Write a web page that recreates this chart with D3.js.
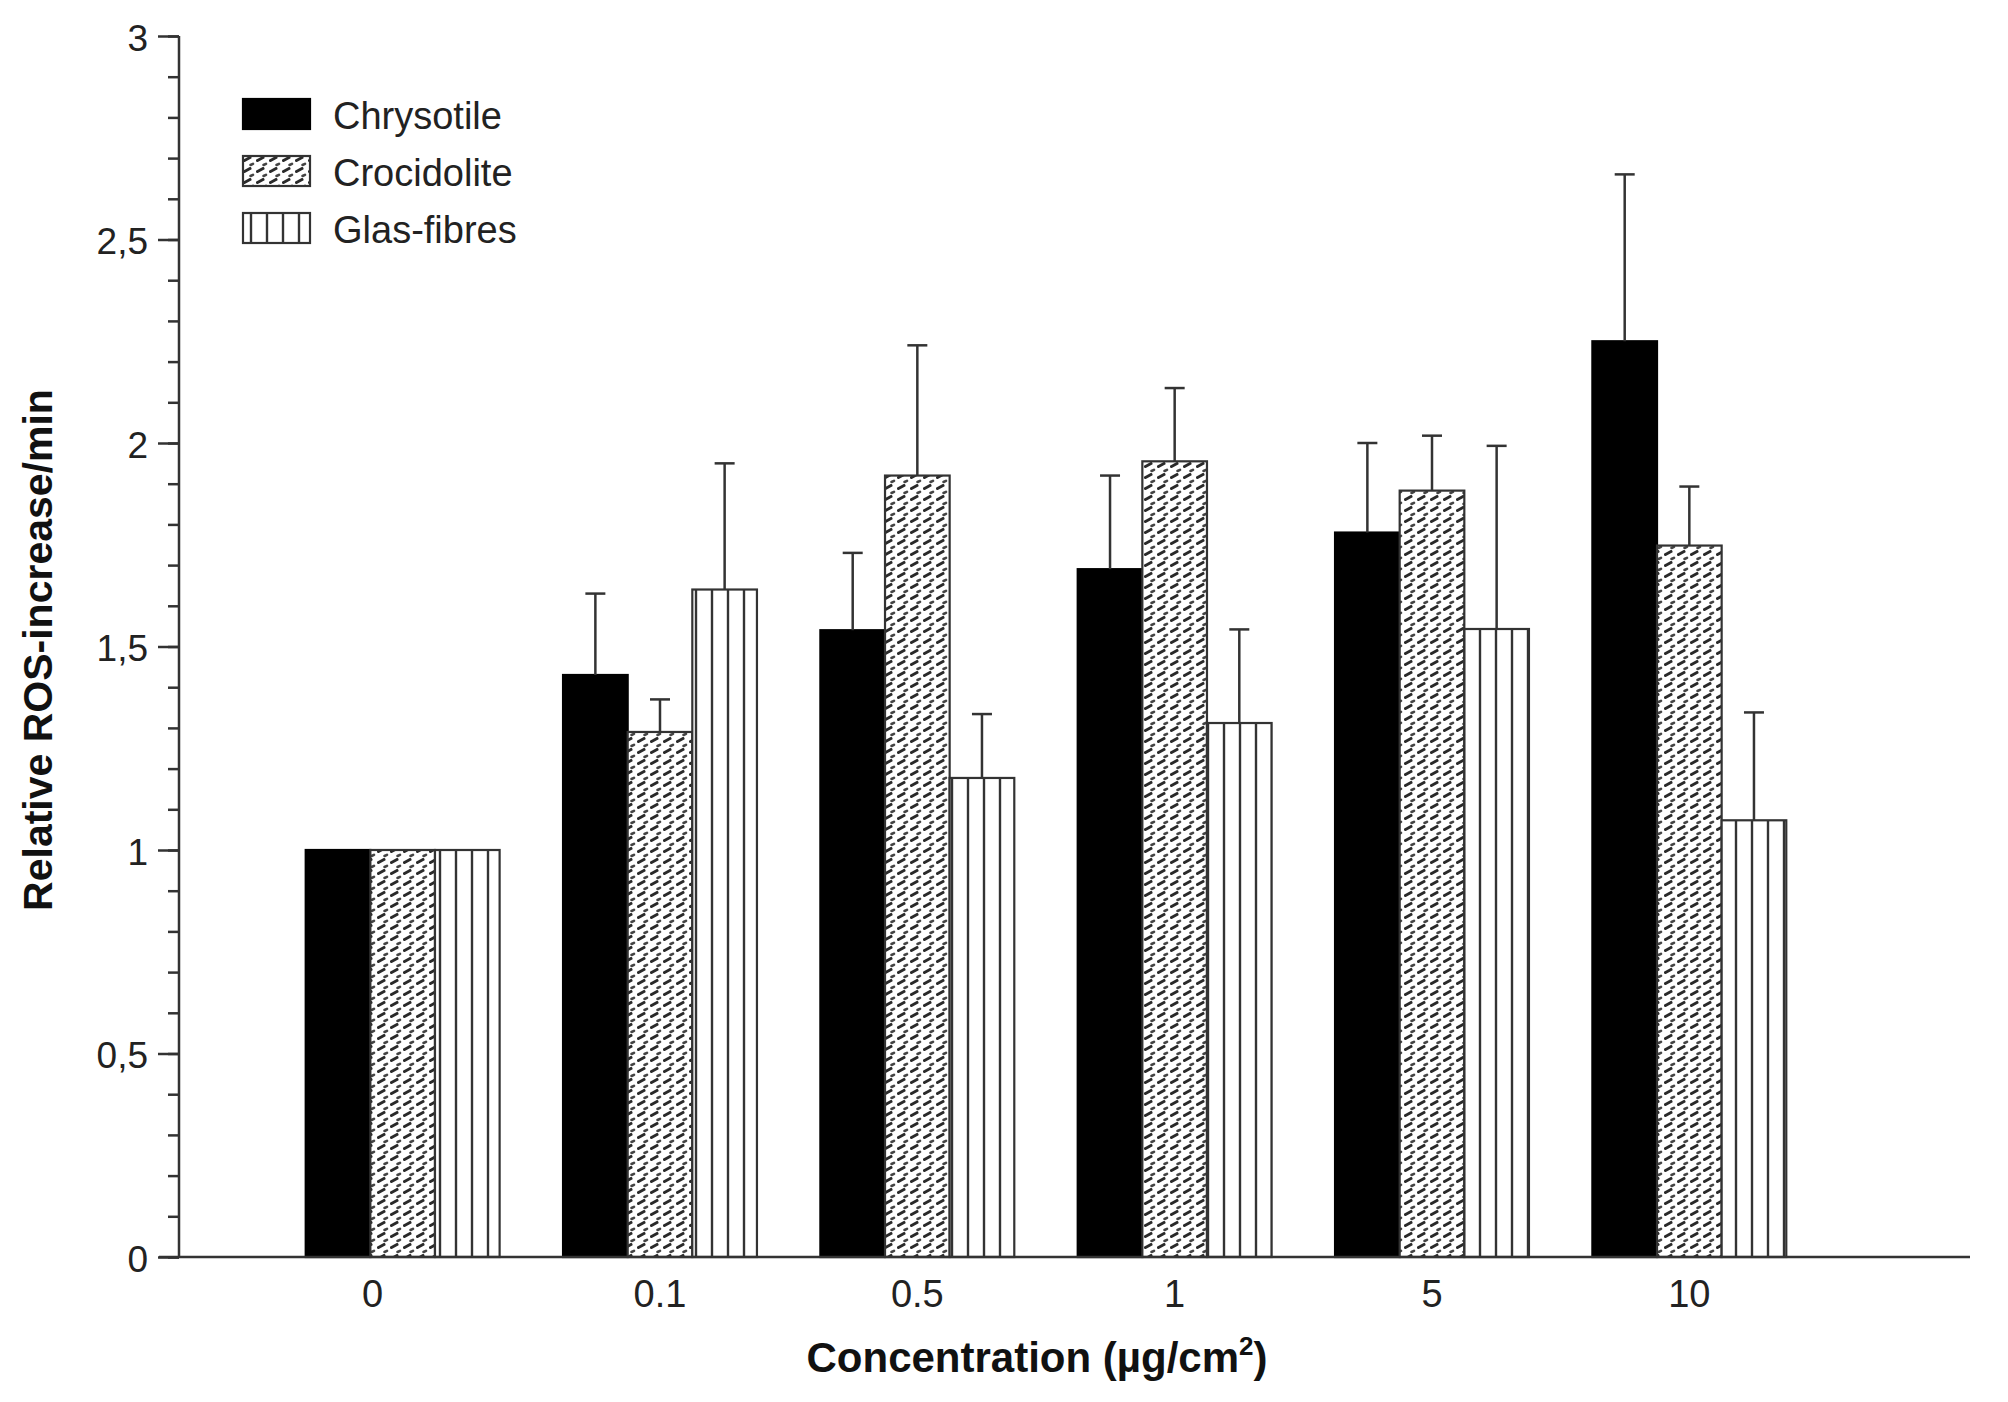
<!DOCTYPE html>
<html>
<head>
<meta charset="utf-8">
<script src="https://cdn.jsdelivr.net/npm/d3@7"></script>
<style>
  body { margin: 0; background: #fff; }
  svg { display: block; font-family: "Liberation Sans", Arial, sans-serif; }
</style>
</head>
<body>
<svg id="chart" width="2008" height="1402"></svg>
<script>
const categories = ["0", "0.1", "0.5", "1", "5", "10"];
const seriesNames = ["Chrysotile", "Crocidolite", "Glas-fibres"];
const chrysotile = [1, 1.43, 1.54, 1.69, 1.78, 2.25];
const chrysotileErr = [0, 0.2, 0.19, 0.23, 0.22, 0.41];
const crocidolite = [1, 1.29, 1.92, 1.955, 1.883, 1.748];
const crocidoliteErr = [0, 0.08, 0.32, 0.18, 0.135, 0.145];
const glas = [1, 1.64, 1.177, 1.312, 1.543, 1.073];
const glasErr = [0, 0.31, 0.157, 0.23, 0.45, 0.265];
const yMajorTicks = [0, 0.5, 1, 1.5, 2, 2.5, 3];
const yTickLabels = ["0", "0,5", "1", "1,5", "2", "2,5", "3"];

const WIDTH = 2008;
const HEIGHT = 1402;
const AXIS_X = 179;
const AXIS_END = 1970;
const Y0 = 1257;
const Y3 = 36;
const INK = "#333";

const values = [chrysotile, crocidolite, glas];
const errors = [chrysotileErr, crocidoliteErr, glasErr];
const fills = ["#000", "url(#croc)", "url(#glas)"];

const svg = d3.select("#chart");

// patterns
const defs = svg.append("defs");
const croc = defs
  .append("pattern")
  .attr("id", "croc")
  .attr("patternUnits", "userSpaceOnUse")
  .attr("width", 13)
  .attr("height", 11);
croc.append("rect").attr("width", 13).attr("height", 11).attr("fill", "#fff");
croc
  .append("line")
  .attr("x1", 1.5).attr("y1", 4.5).attr("x2", 7).attr("y2", 1.5)
  .attr("stroke", "#2a2a2a").attr("stroke-width", 3).attr("stroke-linecap", "round");
croc
  .append("line")
  .attr("x1", 7.5).attr("y1", 9).attr("x2", 10).attr("y2", 7.8)
  .attr("stroke", "#444").attr("stroke-width", 2.6).attr("stroke-linecap", "round");

const glasPat = defs
  .append("pattern")
  .attr("id", "glas")
  .attr("patternUnits", "userSpaceOnUse")
  .attr("width", 16)
  .attr("height", 16);
glasPat.append("rect").attr("width", 16).attr("height", 16).attr("fill", "#fff");
glasPat
  .append("line")
  .attr("x1", 8).attr("y1", 0).attr("x2", 8).attr("y2", 16)
  .attr("stroke", INK).attr("stroke-width", 2.4);

const xScale = d3
  .scaleBand()
  .domain(categories)
  .range([274, 1818])
  .paddingInner(0.2465)
  .paddingOuter(0.2465 / 2);

const xInner = d3
  .scaleBand()
  .domain(seriesNames)
  .range([0, xScale.bandwidth()]);

const yScale = d3.scaleLinear().domain([0, 3]).range([Y0, Y3]);

// bars
seriesNames.forEach((name, s) => {
  svg
    .append("g")
    .selectAll("rect")
    .data(categories)
    .enter()
    .append("rect")
    .attr("x", (d) => xScale(d) + xInner(name))
    .attr("y", (d, i) => yScale(values[s][i]))
    .attr("width", xInner.bandwidth())
    .attr("height", (d, i) => Y0 - yScale(values[s][i]))
    .attr("fill", fills[s])
    .attr("stroke", s === 0 ? "#000" : INK)
    .attr("stroke-width", 2.2);

  // error bars
  const eb = svg
    .append("g")
    .selectAll("g")
    .data(categories.filter((d, i) => errors[s][i] > 0))
    .enter()
    .append("g")
    .attr("stroke", INK)
    .attr("stroke-width", 2.5);
  const cx = (d) => xScale(d) + xInner(name) + xInner.bandwidth() / 2;
  const idx = (d) => categories.indexOf(d);
  eb.append("line")
    .attr("x1", cx)
    .attr("x2", cx)
    .attr("y1", (d) => yScale(values[s][idx(d)]))
    .attr("y2", (d) => yScale(values[s][idx(d)] + errors[s][idx(d)]));
  eb.append("line")
    .attr("x1", (d) => cx(d) - 10)
    .attr("x2", (d) => cx(d) + 10)
    .attr("y1", (d) => yScale(values[s][idx(d)] + errors[s][idx(d)]))
    .attr("y2", (d) => yScale(values[s][idx(d)] + errors[s][idx(d)]));
});

// y axis
const yAxis = svg
  .append("g")
  .attr("transform", `translate(${AXIS_X}, 0)`)
  .call(
    d3
      .axisLeft(yScale)
      .tickValues(d3.range(0, 31).map((d) => d / 10))
      .tickSize(11)
      .tickFormat(""),
  );
yAxis.select(".domain").remove();
yAxis.selectAll(".tick line").attr("stroke", INK).attr("stroke-width", 2.5);

const yMajor = svg
  .append("g")
  .attr("transform", `translate(${AXIS_X}, 0)`)
  .call(
    d3
      .axisLeft(yScale)
      .tickValues(yMajorTicks)
      .tickSize(21)
      .tickPadding(10)
      .tickFormat((d, i) => yTickLabels[i]),
  );
yMajor.select(".domain").remove();
yMajor.selectAll(".tick line").attr("stroke", INK).attr("stroke-width", 2.5);
yMajor
  .selectAll(".tick text")
  .attr("font-size", 37)
  .attr("fill", "#222")
  .attr("font-family", "Liberation Sans, Arial, sans-serif")
  .attr("dy", "0.38em");

svg
  .append("line")
  .attr("x1", AXIS_X).attr("x2", AXIS_X)
  .attr("y1", yScale(3)).attr("y2", Y0)
  .attr("stroke", INK).attr("stroke-width", 2.5);

// x axis
const xAxis = svg
  .append("g")
  .attr("transform", `translate(0, ${Y0})`)
  .call(d3.axisBottom(xScale).tickSize(0).tickPadding(23));
xAxis.select(".domain").remove();
xAxis
  .selectAll(".tick text")
  .attr("font-size", 38)
  .attr("fill", "#222")
  .attr("font-family", "Liberation Sans, Arial, sans-serif");
// the "0" label sits a little left of its group in the original
xAxis.selectAll(".tick text").filter((d) => d === "0").attr("dx", -30);

svg
  .append("line")
  .attr("x1", 159).attr("x2", AXIS_END)
  .attr("y1", Y0).attr("y2", Y0)
  .attr("stroke", INK).attr("stroke-width", 2.5);

// axis titles
const xTitle = svg
  .append("text")
  .attr("x", 1037)
  .attr("y", 1372)
  .attr("text-anchor", "middle")
  .attr("font-size", 42)
  .attr("font-weight", "bold")
  .attr("fill", "#111");
xTitle.append("tspan").text("Concentration (µg/cm");
xTitle.append("tspan").attr("font-size", 26).attr("dy", -17).text("2");
xTitle.append("tspan").attr("dy", 17).text(")");

svg
  .append("text")
  .attr("transform", "translate(52, 650) rotate(-90)")
  .attr("text-anchor", "middle")
  .attr("font-size", 41)
  .attr("font-weight", "bold")
  .attr("fill", "#111")
  .text("Relative ROS-increase/min");

// legend
const legend = svg
  .append("g")
  .selectAll("g")
  .data(seriesNames)
  .enter()
  .append("g")
  .attr("transform", (d, i) => `translate(243, ${99 + i * 57})`);
legend
  .append("rect")
  .attr("width", 67)
  .attr("height", 30)
  .attr("fill", (d, i) => fills[i])
  .attr("stroke", (d, i) => (i === 0 ? "#000" : INK))
  .attr("stroke-width", 2.2);
legend
  .append("text")
  .attr("x", 90)
  .attr("y", 30)
  .attr("font-size", 38)
  .attr("fill", "#222")
  .text((d) => d);
</script>
</body>
</html>
